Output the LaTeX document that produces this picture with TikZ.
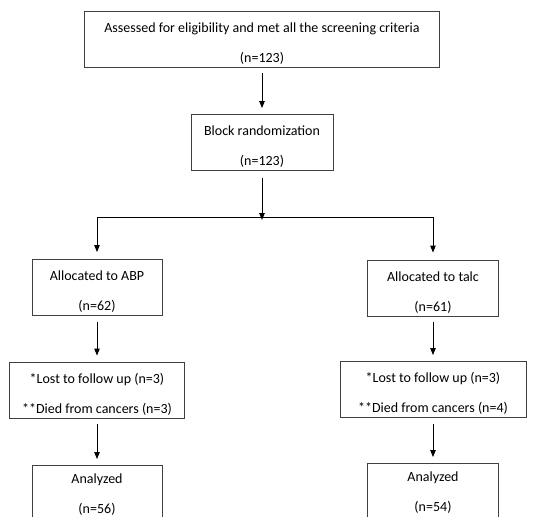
\documentclass[tikz,border=0pt]{standalone}
\usepackage{fontspec}
\setmainfont{Carlito}
\usepackage{tikz}
\usetikzlibrary{arrows.meta}
\newcommand{\boxstrut}[1][18pt]{\rule{0pt}{#1}}

\begin{document}
\begin{tikzpicture}[x=1pt,y=-1pt,>={Triangle[length=7pt,width=5.5pt]},
  font=\fontsize{14}{17}\selectfont,
  box/.style={draw=black!75,line width=0.9pt,align=center,inner sep=0pt,minimum height=56pt},
  arr/.style={->,line width=0.9pt,shorten <=6pt,shorten >=6pt}]
\useasboundingbox (0,0) rectangle (547,517);
\clip (0,0) rectangle (547,517);
\node[box,minimum width=355pt] (elig) at (262,39) {\boxstrut Assessed for eligibility and met all the screening criteria\\[13pt](n=123)};
\node[box,minimum width=142pt] (block) at (262,142.5) {\boxstrut Block randomization\\[13pt](n=123)};
\node[box,minimum width=130pt] (abp) at (97,287.5) {\boxstrut Allocated to ABP\\[13pt](n=62)};
\node[box,minimum width=131pt] (talc) at (433,288) {\boxstrut Allocated to talc\\[13pt](n=61)};
\node[box,minimum width=175pt] (lostl) at (97,390) {\boxstrut *Lost to follow up (n=3)\\[13pt]**Died from cancers (n=3)};
\node[box,minimum width=186pt] (lostr) at (433,389.5) {\boxstrut *Lost to follow up (n=3)\\[13pt]**Died from cancers (n=4)};
\node[box,minimum width=130pt] (anal) at (97,493.5) {\boxstrut[12pt]Analyzed\\[13pt](n=56)};
\node[box,minimum width=131pt] (anar) at (433,491.5) {\boxstrut[12pt]Analyzed\\[13pt](n=54)};
\coordinate (split) at (262,217);
\coordinate (splitl) at (97,217);
\coordinate (splitr) at (433,217);
\draw[arr] (elig.south) -- (block.north);
\draw[->,line width=0.9pt,shorten <=7pt] (block.south) -- ([yshift=-3pt]split);
\draw[line width=0.9pt] (splitl) -- (splitr);
\draw[->,line width=0.9pt,shorten >=7pt] (splitl) -- (abp.north);
\draw[->,line width=0.9pt,shorten >=7pt] (splitr) -- (talc.north);
\draw[arr] (abp.south) -- (lostl.north);
\draw[arr] (talc.south) -- (lostr.north);
\draw[arr] (lostl.south) -- (anal.north);
\draw[arr] (lostr.south) -- (anar.north);
\end{tikzpicture}
\end{document}
